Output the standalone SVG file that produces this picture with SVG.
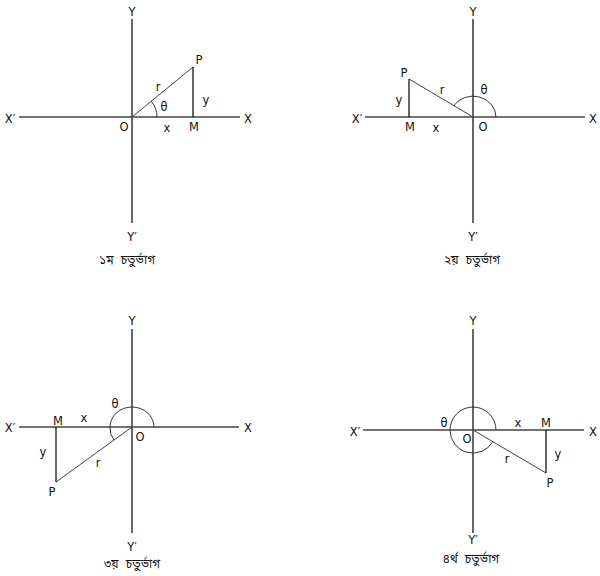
<svg xmlns="http://www.w3.org/2000/svg" width="600" height="576" viewBox="0 0 600 576">
<style>
.ax{stroke:#000;stroke-width:1.2;fill:none}
.axh{stroke:#444;stroke-width:1.3;fill:none}
.ln{stroke:#444;stroke-width:1;fill:none}
.pm{stroke:#000;stroke-width:1.2;fill:none}
.arc{stroke:#333;stroke-width:1;fill:none}
text{font-family:"DejaVu Sans","Liberation Sans",sans-serif;font-size:11.5px;fill:#111;text-anchor:middle}
.cap{font-family:"Noto Sans Bengali","Lohit Bengali","Noto Serif Bengali","FreeSans","Noto Sans",sans-serif;font-size:12px}
</style>
<rect width="600" height="576" fill="#fff"/>
<g id="q1">
<line class="ax" x1="132" y1="19" x2="132" y2="223"/>
<line class="axh" x1="19" y1="117" x2="240" y2="117"/>
<line class="ln" x1="132" y1="117" x2="193" y2="67"/>
<line class="pm" x1="193" y1="67" x2="193" y2="117"/>
<path class="arc" d="M157,117 A25,25 0 0 0 151.3,101.2"/>
<text x="132" y="16">Y</text>
<text x="10" y="123">X′</text>
<text x="248" y="123">X</text>
<text x="124" y="131">O</text>
<text x="194" y="131">M</text>
<text x="167" y="132">x</text>
<text x="199" y="64">P</text>
<text x="158" y="91">r</text>
<text x="206" y="104">y</text>
<text x="164" y="111">θ</text>
<text x="132" y="241">Y′</text>
<text class="cap" x="127" y="264">১ম <tspan dx="4">চতুর্ভাগ</tspan></text>
</g>
<g id="q2">
<line class="ax" x1="473" y1="19" x2="473" y2="223"/>
<line class="axh" x1="365" y1="117" x2="585" y2="117"/>
<line class="ln" x1="473" y1="117" x2="409" y2="79"/>
<line class="pm" x1="409" y1="79" x2="409" y2="117"/>
<path class="arc" d="M496,117 A23,21 0 0 0 453.5,106"/>
<text x="473" y="16">Y</text>
<text x="357" y="123">X′</text>
<text x="593" y="123">X</text>
<text x="483" y="131">O</text>
<text x="410" y="131">M</text>
<text x="436" y="132">x</text>
<text x="404" y="77">P</text>
<text x="442" y="94">r</text>
<text x="399" y="104">y</text>
<text x="484" y="94">θ</text>
<text x="473" y="241">Y′</text>
<text class="cap" x="472" y="264">২য় <tspan dx="4">চতুর্ভাগ</tspan></text>
</g>
<g id="q3">
<line class="ax" x1="132" y1="329" x2="132" y2="533"/>
<line class="axh" x1="19" y1="427" x2="239" y2="427"/>
<line class="ln" x1="132" y1="427" x2="56" y2="482"/>
<line class="pm" x1="56" y1="427" x2="56" y2="482"/>
<path class="arc" d="M154,427 A22,20 0 0 0 110,427 A22,20 0 0 0 114,440"/>
<text x="132" y="325">Y</text>
<text x="10" y="432">X′</text>
<text x="248" y="432">X</text>
<text x="140" y="441">O</text>
<text x="58" y="425">M</text>
<text x="84" y="422">x</text>
<text x="115" y="408">θ</text>
<text x="43" y="456">y</text>
<text x="52" y="496">P</text>
<text x="98" y="467">r</text>
<text x="132" y="551">Y′</text>
<text class="cap" x="132" y="568">৩য় <tspan dx="4">চতুর্ভাগ</tspan></text>
</g>
<g id="q4">
<line class="ax" x1="473" y1="329" x2="473" y2="533"/>
<line class="axh" x1="363" y1="430" x2="584" y2="430"/>
<line class="ln" x1="473" y1="430" x2="546" y2="473"/>
<line class="pm" x1="546" y1="430" x2="546" y2="473"/>
<path class="arc" d="M496,430 A23,23 0 0 0 450,430 A23,23 0 0 0 492.9,441.6"/>
<text x="473" y="325">Y</text>
<text x="355" y="436">X′</text>
<text x="593" y="436">X</text>
<text x="467" y="443">O</text>
<text x="546" y="427">M</text>
<text x="518" y="427">x</text>
<text x="444" y="427">θ</text>
<text x="558" y="458">y</text>
<text x="550" y="487">P</text>
<text x="507" y="463">r</text>
<text x="473" y="544">Y′</text>
<text class="cap" x="471" y="563">৪র্থ <tspan dx="4">চতুর্ভাগ</tspan></text>
</g>
</svg>
